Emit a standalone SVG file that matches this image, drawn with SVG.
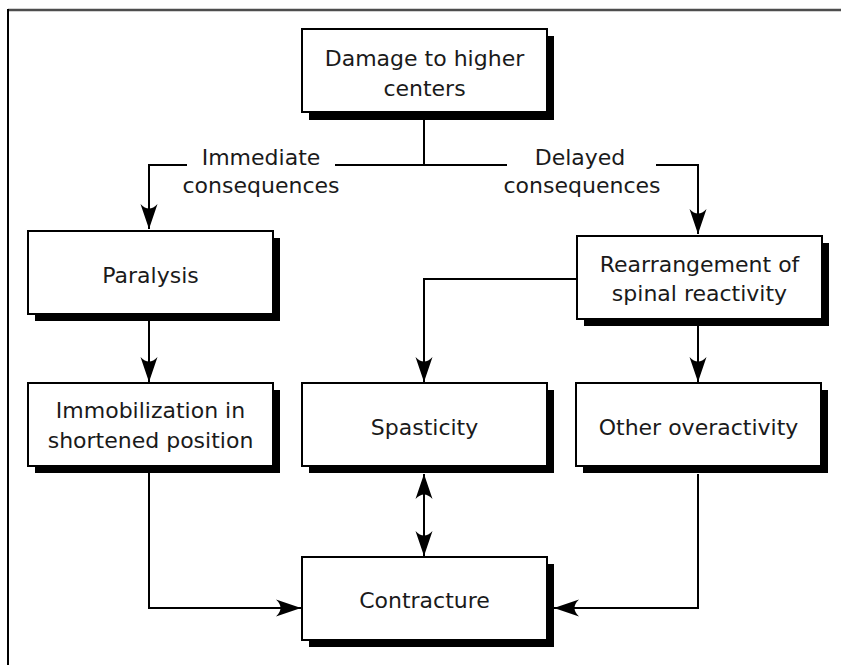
<svg xmlns="http://www.w3.org/2000/svg" width="841" height="665" viewBox="0 0 841 665">
<style>
.box{fill:#fff;stroke:#000;stroke-width:2}
.sh{fill:#000}
.t{font-family:"DejaVu Sans","Liberation Sans",sans-serif;font-size:22px;fill:#1a1a1a;text-anchor:middle}
.c{fill:none;stroke:#000;stroke-width:2}
</style>
<defs>
<marker id="ah" markerUnits="userSpaceOnUse" viewBox="-26 -9 27 18" refX="0" refY="0" markerWidth="27" markerHeight="18" orient="auto-start-reverse">
<path d="M0,0 L-25,-8.5 Q-16,0 -25,8.5 Z" fill="#000"/>
</marker>
</defs>
<rect width="841" height="665" fill="#fff"/>
<g id="frame">
<line x1="8" y1="10" x2="841" y2="10" stroke="#4d4d4d" stroke-width="2.5"/>
<line x1="8" y1="9" x2="8" y2="665" stroke="#000" stroke-width="2"/>
</g>
<g id="connectors">
<path class="c" d="M424,119 V165 M424,165 H335 M187,165 H149 V229" marker-end="url(#ah)"/>
<path class="c" d="M424,165 H507 M656,165 H698 V234" marker-end="url(#ah)"/>
<path class="c" d="M149,321 V382" marker-end="url(#ah)"/>
<path class="c" d="M577,279 H424 V382" marker-end="url(#ah)"/>
<path class="c" d="M698,326 V382" marker-end="url(#ah)"/>
<path class="c" d="M424,474 V556" marker-start="url(#ah)" marker-end="url(#ah)"/>
<path class="c" d="M149,473 V608 H301" marker-end="url(#ah)"/>
<path class="c" d="M698,474 V608 H554" marker-end="url(#ah)"/>
</g>
<g id="damage">
<rect class="sh" x="309" y="36" width="245" height="84"/>
<rect class="box" x="302" y="29" width="245" height="83"/>
<text class="t" x="424.5" y="66">Damage to higher</text>
<text class="t" x="424.5" y="96">centers</text>
</g>
<g id="label-immediate">
<text class="t" x="261" y="165">Immediate</text>
<text class="t" x="261" y="193">consequences</text>
</g>
<g id="label-delayed">
<text class="t" x="580" y="165">Delayed</text>
<text class="t" x="582" y="193">consequences</text>
</g>
<g id="paralysis">
<rect class="sh" x="35" y="238" width="245" height="83"/>
<rect class="box" x="28" y="231" width="245" height="83"/>
<text class="t" x="150.5" y="283">Paralysis</text>
</g>
<g id="rearrangement">
<rect class="sh" x="584" y="243" width="245" height="83"/>
<rect class="box" x="577" y="236" width="245" height="83"/>
<text class="t" x="699.5" y="272">Rearrangement of</text>
<text class="t" x="699.5" y="301">spinal reactivity</text>
</g>
<g id="immobilization">
<rect class="sh" x="35" y="390" width="245" height="83"/>
<rect class="box" x="28" y="383" width="245" height="83"/>
<text class="t" x="150.5" y="418">Immobilization in</text>
<text class="t" x="150.5" y="448">shortened position</text>
</g>
<g id="spasticity">
<rect class="sh" x="309" y="390" width="245" height="83"/>
<rect class="box" x="302" y="383" width="245" height="83"/>
<text class="t" x="424.5" y="435">Spasticity</text>
</g>
<g id="other">
<rect class="sh" x="583" y="390" width="245" height="83"/>
<rect class="box" x="576" y="383" width="245" height="83"/>
<text class="t" x="698.5" y="435">Other overactivity</text>
</g>
<g id="contracture">
<rect class="sh" x="309" y="564" width="245" height="83"/>
<rect class="box" x="302" y="557" width="245" height="83"/>
<text class="t" x="424.5" y="608">Contracture</text>
</g>
</svg>
